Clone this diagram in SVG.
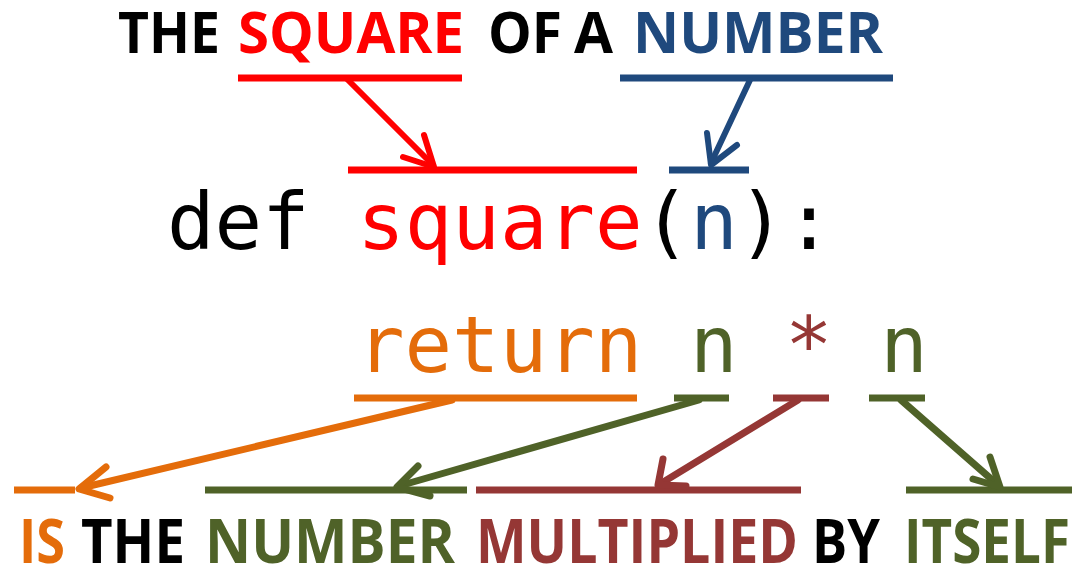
<svg xmlns="http://www.w3.org/2000/svg" width="1074" height="567" viewBox="0 0 1074 567">
<style>
.lbl{font-family:"Open Sans","Liberation Sans",sans-serif;font-weight:700;}
.top{font-size:57px;}
.bot{font-size:60px;}
.code{font-family:"DejaVu Sans Mono","Liberation Mono",monospace;font-size:79px;}
.k{fill:#000000;}
.r{fill:#FF0000;}
.b{fill:#1F497D;}
.o{fill:#E46C0A;}
.g{fill:#4F6228;}
.m{fill:#953735;}
.ln{fill:none;stroke-linecap:butt;}
.ar{fill:none;stroke-linecap:round;stroke-linejoin:round;}
.sr{stroke:#FF0000;}
.sb{stroke:#1F497D;}
.so{stroke:#E46C0A;}
.sg{stroke:#4F6228;}
.sm{stroke:#953735;}
.u{stroke-width:7;}
.t{stroke-width:6;}
.t2{stroke-width:7;}
</style>
<rect width="1074" height="567" fill="#FFFFFF"/>
<g id="heading">
<text class="lbl top k" x="118" y="53" textLength="102" lengthAdjust="spacingAndGlyphs">THE</text>
<text class="lbl top r" x="238" y="53" textLength="226" lengthAdjust="spacingAndGlyphs">SQUARE</text>
<text class="lbl top k" x="488" y="53" textLength="74" lengthAdjust="spacingAndGlyphs">OF</text>
<text class="lbl top k" x="574" y="53" textLength="39" lengthAdjust="spacingAndGlyphs">A</text>
<text class="lbl top b" x="633" y="53" textLength="250" lengthAdjust="spacingAndGlyphs">NUMBER</text>
</g>
<g id="code-def">
<text class="code k" x="167" y="249">def <tspan class="r">square</tspan>(<tspan class="b">n</tspan>):</text>
</g>
<g id="code-return">
<text class="code" x="357" y="372"><tspan class="o">return</tspan> <tspan class="g">n</tspan> <tspan class="m">*</tspan> <tspan class="g">n</tspan></text>
</g>
<g id="caption">
<text class="lbl bot o" x="19" y="563" textLength="46" lengthAdjust="spacingAndGlyphs">IS</text>
<text class="lbl bot k" x="81" y="563" textLength="104" lengthAdjust="spacingAndGlyphs">THE</text>
<text class="lbl bot g" x="205" y="563" textLength="250" lengthAdjust="spacingAndGlyphs">NUMBER</text>
<text class="lbl bot m" x="476" y="563" textLength="322" lengthAdjust="spacingAndGlyphs">MULTIPLIED</text>
<text class="lbl bot k" x="812" y="563" textLength="68" lengthAdjust="spacingAndGlyphs">BY</text>
<text class="lbl bot g" x="904" y="563" textLength="166" lengthAdjust="spacingAndGlyphs">ITSELF</text>
</g>
<g id="connectors">
<!-- underlines -->
<line class="ln sr u" x1="238" y1="78" x2="462" y2="78"/>
<line class="ln sb u" x1="620" y1="78" x2="893" y2="78"/>
<line class="ln sr u" x1="348" y1="170" x2="637" y2="170"/>
<line class="ln sb u" x1="669" y1="170" x2="749" y2="170"/>
<line class="ln so u" x1="354" y1="398" x2="637" y2="398"/>
<line class="ln sg u" x1="674" y1="398" x2="729" y2="398"/>
<line class="ln sm u" x1="773" y1="398" x2="829" y2="398"/>
<line class="ln sg u" x1="869" y1="398" x2="925" y2="398"/>
<line class="ln so u" x1="14" y1="490" x2="75" y2="490"/>
<line class="ln sg u" x1="205" y1="490" x2="467" y2="490"/>
<line class="ln sm u" x1="476" y1="490" x2="801" y2="490"/>
<line class="ln sg u" x1="906" y1="490" x2="1072" y2="490"/>
<!-- arrows -->
<line class="ar sr t" x1="348" y1="80" x2="433" y2="165"/>
<polyline class="ar sr t" points="403,157 434,167 424,135"/>
<line class="ar sb t" x1="750" y1="80" x2="711" y2="163"/>
<polyline class="ar sb t" points="707,133 711,165 737,145"/>
<line class="ar so t2" x1="452" y1="400" x2="81" y2="488"/>
<polyline class="ar so t2" points="106,467 79,489 110,498"/>
<line class="ar sg t2" x1="699" y1="400" x2="399" y2="486"/>
<polyline class="ar sg t2" points="418,466 397,487 430,496"/>
<line class="ar sm t2" x1="798" y1="400" x2="660" y2="484"/>
<polyline class="ar sm t2" points="663,459 658,485 686,486"/>
<line class="ar sg t2" x1="901" y1="400" x2="998" y2="485"/>
<polyline class="ar sg t2" points="990,457 1000,487 973,479"/>
</g>
</svg>
